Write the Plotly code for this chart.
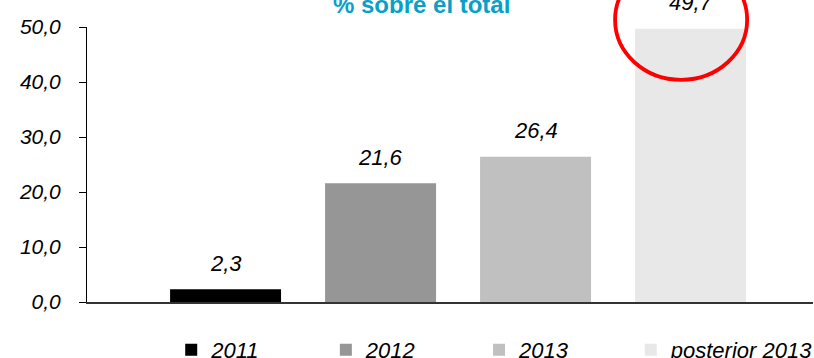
import plotly.graph_objects as go

# Share of the total by period (%)
periods = ["2011", "2012", "2013", "posterior 2013"]
shares = [2.3, 21.6, 26.4, 49.7]
colors = ["#000000", "#969696", "#c0c0c0", "#e8e8e8"]
y_ticks = [0, 10, 20, 30, 40, 50]
y_tick_labels = ["0,0", "10,0", "20,0", "30,0", "40,0", "50,0"]
title_text = "% sobre el total"

FONT = "Liberation Sans, Arial, Helvetica, sans-serif"
BAR_W = 0.716
X_RANGE = [-0.894, 3.79]
Y_RANGE = [0, 50]

# left edge of each legend entry, as a fraction of the plot width
legend_x = [0.116, 0.329, 0.540, 0.749]
legend_ids = ["legend", "legend2", "legend3", "legend4"]

fig = go.Figure()
for i, (name, val, col) in enumerate(zip(periods, shares, colors)):
    fig.add_trace(go.Bar(
        x=[i], y=[val], name=name, width=BAR_W,
        marker=dict(color=col, line=dict(width=0)),
        hoverinfo="skip", legend=legend_ids[i],
    ))
    fig.add_annotation(
        x=i, y=val, xref="x", yref="y",
        text=f"{val:.1f}".replace(".", ","),
        showarrow=False, yanchor="middle", yshift=26,
        font=dict(family=FONT, size=22, color="#000000", style="italic"),
    )


def x_dom(v):
    return (v - X_RANGE[0]) / (X_RANGE[1] - X_RANGE[0])


def y_dom(v):
    return (v - Y_RANGE[0]) / (Y_RANGE[1] - Y_RANGE[0])


# red ring highlighting the last period's value (domain refs so it is not clipped)
last = len(shares) - 1
fig.add_shape(
    type="circle", xref="x domain", yref="y domain",
    x0=x_dom(last - 0.487), x1=x_dom(last + 0.365),
    y0=y_dom(shares[last] - 9.3), y1=y_dom(shares[last] + 12.5),
    line=dict(color="#ff0000", width=3.8),
    layer="above",
)

fig.add_annotation(
    xref="paper", yref="paper", x=0.4607, y=1, yshift=23,
    text=f"<b>{title_text}</b>", showarrow=False,
    xanchor="center", yanchor="middle",
    font=dict(family=FONT, size=24, color="#0aa0c6"),
)

legend_style = dict(
    orientation="h", xanchor="left", y=-0.098, yanchor="top",
    font=dict(family=FONT, size=22, color="#000000", style="italic"),
    itemclick=False, itemdoubleclick=False, bgcolor="rgba(0,0,0,0)",
)

fig.update_layout(
    width=814, height=358,
    margin=dict(l=87, r=1, t=27, b=56, autoexpand=False),
    paper_bgcolor="white", plot_bgcolor="white",
    barmode="overlay",
    showlegend=True,
    xaxis=dict(
        range=X_RANGE, showticklabels=False, ticks="",
        showgrid=False, zeroline=False, showline=True,
        linecolor="#333333", linewidth=1.5,
    ),
    yaxis=dict(
        range=Y_RANGE, tickvals=y_ticks, ticktext=y_tick_labels,
        ticks="outside", ticklen=7, tickcolor="#000000", tickwidth=1,
        ticklabelstandoff=14,
        showgrid=False, zeroline=False, showline=True,
        linecolor="#000000", linewidth=1,
        tickfont=dict(family=FONT, size=21, color="#000000", style="italic"),
    ),
)
fig.update_layout({lid: dict(x=lx, **legend_style) for lid, lx in zip(legend_ids, legend_x)})

fig.write_html("out.html")
